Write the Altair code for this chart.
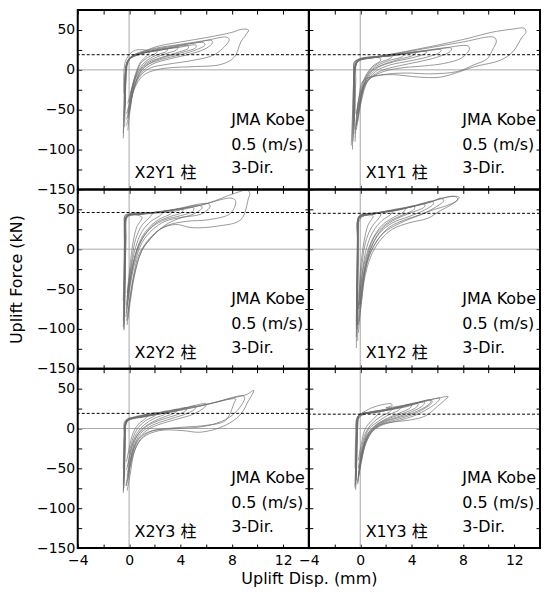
import altair as alt
import pandas as pd

# ---------------- data (x: mm, y: kN) ----------------
X2Y1 = [
    [(-0.45,-86),(-0.4,-60),(-0.35,-30),(-0.3,-5),(-0.15,10),(0.3,18),(1.0,22),(2.1,29),(4.0,35),(6.2,41),(8.0,47),(8.8,51),(9.3,50),(9.1,44),(8.7,35),(8.2,16),(7.2,7),(5.0,4),(3.5,3),(2.1,0),(1.1,-7),(0.4,-24),(0.1,-48),(-0.1,-76)],
    [(-0.35,-72),(-0.3,-35),(-0.25,-8),(-0.1,12),(0.5,20),(2.0,27),(4.0,32),(6.0,37),(7.6,41),(7.8,38),(7.3,27),(6.5,18),(5.0,12),(3.0,7),(1.6,2),(0.8,-9),(0.3,-28),(0.0,-55),(-0.2,-70)],
    [(-0.4,-65),(-0.3,-25),(-0.2,5),(0.2,16),(1.5,24),(3.5,30),(5.2,34),(6.4,37),(6.5,34),(6.0,27),(4.8,20),(3.2,14),(1.8,7),(1.0,-3),(0.4,-20),(0.1,-45),(-0.2,-62)],
    [(-0.35,-58),(-0.3,-20),(-0.2,8),(0.3,17),(1.5,23),(3.5,29),(5.8,34),(5.9,31),(5.2,25),(4.0,19),(2.5,13),(1.3,5),(0.7,-8),(0.3,-28),(0.0,-50)],
    [(-0.3,-50),(-0.25,-15),(-0.1,10),(0.5,18),(2.0,24),(3.8,28),(5.2,31),(5.2,28),(4.4,23),(3.0,17),(1.8,10),(1.0,0),(0.5,-15),(0.1,-38),(-0.2,-55)],
    [(-0.3,-45),(-0.25,-10),(-0.1,12),(0.6,19),(2.2,24),(4.6,30),(4.6,27),(3.8,22),(2.6,16),(1.5,9),(0.8,-2),(0.3,-20),(0.0,-40)],
    [(-0.35,-40),(-0.3,-5),(0.0,14),(0.8,20),(2.5,25),(3.8,28),(3.7,25),(3.0,21),(2.0,15),(1.2,7),(0.6,-6),(0.2,-25),(-0.1,-42)],
    [(-0.3,-35),(-0.2,0),(0.1,15),(1.0,21),(3.0,26),(2.9,23),(2.2,19),(1.4,12),(0.8,2),(0.4,-12),(0.1,-30)],
    [(-0.4,-30),(-0.3,10),(0.2,22),(0.6,25),(1.2,25),(1.6,23),(1.4,18),(0.9,10),(0.5,-5),(0.2,-25),(-0.1,-55)],
    [(-0.45,-80),(-0.4,-40),(-0.3,-5),(0.0,13),(0.8,19),(2.2,24),(2.1,21),(1.5,16),(0.9,8),(0.5,-8),(0.2,-30),(-0.1,-60)],
]
X1Y1 = [
    [(-0.6,-100),(-0.6,-70),(-0.55,-35),(-0.5,-5),(-0.45,10),(0.0,13),(1.5,17),(3.5,23),(6.3,32),(8.5,40),(10.2,47),(11.8,51),(12.8,52),(12.9,47),(12.6,41),(11.9,23),(10.9,12),(8.9,4),(6.3,-9),(4.5,-9),(2.5,-6),(1.0,-8),(0.2,-14),(-0.1,-35),(-0.3,-65),(-0.4,-90)],
    [(-0.5,-85),(-0.5,-40),(-0.45,0),(-0.3,12),(1.0,16),(3.0,21),(5.5,28),(8.0,35),(10.4,41),(10.6,36),(10.3,25),(9.9,14),(8.8,6),(7.6,-2),(5.5,-5),(3.5,-4),(1.8,-6),(0.6,-12),(0.0,-30),(-0.3,-60),(-0.4,-80)],
    [(-0.45,-75),(-0.45,-35),(-0.4,2),(-0.2,12),(1.2,16),(3.5,21),(6.0,26),(8.4,30),(8.5,26),(7.9,15),(6.5,8),(5.0,5),(3.0,2),(1.5,-4),(0.5,-15),(0.0,-40),(-0.3,-70)],
    [(-0.5,-70),(-0.45,-30),(-0.35,5),(0.0,13),(2.0,18),(4.5,23),(7.1,27),(7.0,23),(6.0,16),(4.5,10),(3.0,5),(1.5,-2),(0.6,-14),(0.1,-38),(-0.2,-65)],
    [(-0.55,-90),(-0.5,-45),(-0.4,0),(-0.1,13),(2.0,17),(4.0,21),(6.3,25),(6.2,22),(5.2,16),(3.8,11),(2.3,6),(1.2,-2),(0.4,-18),(0.0,-45),(-0.3,-75)],
    [(-0.45,-65),(-0.4,-25),(-0.3,8),(0.3,14),(2.5,18),(5.2,23),(5.0,20),(4.0,15),(2.6,10),(1.4,3),(0.6,-10),(0.1,-30),(-0.2,-55)],
    [(-0.5,-60),(-0.45,-20),(-0.3,10),(0.5,14),(2.5,18),(4.3,21),(4.1,18),(3.2,14),(2.0,8),(1.0,0),(0.4,-14),(0.0,-35),(-0.3,-58)],
    [(-0.4,-55),(-0.35,-15),(-0.2,11),(1.0,15),(3.4,19),(3.2,16),(2.3,12),(1.3,5),(0.6,-6),(0.2,-24),(-0.1,-48)],
    [(-0.7,-95),(-0.6,-55),(-0.5,-10),(-0.4,11),(0.5,14),(2.5,17),(2.3,14),(1.5,9),(0.8,0),(0.3,-14),(0.0,-38),(-0.3,-70)],
    [(-0.55,-80),(-0.5,-35),(-0.4,5),(0.0,12),(1.5,15),(1.6,12),(1.0,5),(0.4,-8),(0.0,-28),(-0.3,-55)],
]
X2Y2 = [
    [(-0.4,-102),(-0.35,-75),(-0.35,-40),(-0.35,0),(-0.35,30),(-0.3,43),(0.5,44),(2.0,45),(3.6,48),(6.2,58),(8.2,70),(9.2,74),(9.4,70),(9.3,64),(8.7,37),(6.9,29),(4.9,27),(3.6,31),(2.4,25),(1.6,12),(0.8,-5),(0.3,-37),(0.0,-70),(-0.15,-95)],
    [(-0.4,-95),(-0.35,-55),(-0.3,-10),(-0.3,30),(-0.2,42),(1.0,44),(3.0,48),(5.5,55),(8.0,64),(8.3,60),(7.9,45),(6.2,37),(4.5,35),(3.0,30),(2.0,20),(1.2,5),(0.5,-25),(0.1,-60),(-0.2,-90)],
    [(-0.45,-90),(-0.4,-50),(-0.35,0),(-0.3,38),(0.0,43),(1.5,45),(3.5,50),(6.2,57),(6.3,53),(5.6,44),(4.1,40),(2.8,35),(1.8,24),(1.0,8),(0.4,-20),(0.0,-55),(-0.25,-85)],
    [(-0.35,-85),(-0.35,-45),(-0.3,5),(-0.25,40),(0.3,43),(2.0,46),(3.5,49),(5.0,52),(5.0,48),(4.0,42),(2.8,37),(1.8,28),(1.0,12),(0.4,-15),(0.0,-50),(-0.2,-80)],
    [(-0.4,-80),(-0.35,-40),(-0.3,10),(-0.2,41),(0.5,44),(2.5,47),(4.2,50),(4.1,46),(3.2,41),(2.2,34),(1.4,22),(0.7,3),(0.2,-28),(-0.1,-65)],
    [(-0.45,-98),(-0.4,-60),(-0.35,-10),(-0.3,35),(-0.1,42),(1.5,45),(3.4,48),(3.2,44),(2.4,38),(1.6,28),(0.9,12),(0.4,-12),(0.0,-45),(-0.2,-75)],
    [(-0.35,-70),(-0.3,-30),(-0.25,15),(-0.15,40),(1.0,44),(2.6,46),(2.4,42),(1.7,35),(1.0,22),(0.5,2),(0.1,-30),(-0.15,-60)],
    [(-0.4,-75),(-0.35,-30),(-0.3,20),(-0.2,42),(0.8,44),(1.8,45),(1.6,40),(1.0,30),(0.5,12),(0.2,-15),(-0.05,-45),(-0.2,-70)],
    [(-0.45,-65),(-0.4,-20),(-0.35,25),(-0.3,42),(0.5,43),(1.0,40),(0.6,28),(0.3,8),(0.05,-25),(-0.15,-55)],
    [(-0.4,-100),(-0.35,-70),(-0.3,-30),(-0.25,10),(-0.2,38),(0.0,44),(2.0,46),(4.0,51),(5.5,55),(5.7,52),(5.0,44),(3.8,38),(2.8,30),(1.6,12),(0.9,-5),(0.4,-35),(0.1,-65),(-0.1,-88)],
]
X1Y2 = [
    [(-0.3,-124),(-0.3,-90),(-0.25,-50),(-0.2,-10),(-0.15,30),(-0.1,42),(1.0,45),(3.0,50),(5.0,57),(6.9,66),(7.7,65),(7.2,57),(6.2,48),(5.3,39),(3.8,33),(2.5,25),(1.5,10),(0.8,-10),(0.3,-40),(0.0,-80),(-0.15,-105)],
    [(-0.25,-100),(-0.25,-60),(-0.2,-15),(-0.15,30),(-0.05,41),(1.5,46),(3.5,52),(5.5,59),(6.3,64),(6.5,61),(5.8,52),(4.8,44),(3.5,37),(2.3,28),(1.4,13),(0.7,-8),(0.25,-40),(-0.05,-75)],
    [(-0.3,-95),(-0.25,-45),(-0.2,0),(-0.1,38),(0.5,43),(2.5,48),(4.5,55),(5.6,60),(5.7,57),(5.0,49),(3.8,41),(2.5,33),(1.5,20),(0.8,0),(0.3,-30),(0.0,-70)],
    [(-0.3,-110),(-0.25,-70),(-0.2,-20),(-0.15,35),(0.0,42),(2.0,47),(4.0,53),(5.0,57),(5.0,53),(4.0,46),(2.8,38),(1.8,27),(1.0,8),(0.4,-22),(0.05,-60),(-0.15,-95)],
    [(-0.25,-90),(-0.2,-40),(-0.15,10),(-0.1,40),(1.0,44),(2.8,49),(4.2,54),(4.2,50),(3.3,43),(2.2,34),(1.2,18),(0.6,-5),(0.2,-35),(-0.05,-70)],
    [(-0.3,-85),(-0.25,-35),(-0.2,15),(-0.1,40),(1.0,44),(3.5,51),(3.4,47),(2.6,40),(1.7,30),(1.0,14),(0.4,-12),(0.05,-45),(-0.15,-75)],
    [(-0.25,-100),(-0.2,-50),(-0.15,20),(-0.05,41),(1.2,45),(2.5,48),(2.4,44),(1.7,36),(1.0,22),(0.5,2),(0.15,-30),(-0.1,-70)],
    [(-0.3,-80),(-0.25,-30),(-0.2,25),(-0.1,41),(0.8,43),(1.6,45),(1.5,40),(0.9,28),(0.4,8),(0.1,-25),(-0.1,-60)],
    [(-0.2,-115),(-0.2,-70),(-0.15,-20),(-0.1,35),(0.3,42),(1.0,42),(0.6,30),(0.3,10),(0.05,-20),(-0.1,-60),(-0.2,-95)],
    [(-0.3,-90),(-0.25,-40),(-0.2,10),(-0.15,38),(0.5,43),(3.0,49),(4.5,56),(6.0,62),(7.4,66),(7.6,62),(6.8,55),(5.8,50),(4.5,42),(3.0,32),(1.8,20),(1.0,2),(0.4,-25),(0.15,-60),(-0.1,-90)],
]
X2Y3 = [
    [(-0.45,-81),(-0.4,-55),(-0.35,-25),(-0.3,0),(-0.2,10),(0.5,15),(2.4,20),(4.2,25),(6.2,31),(8.0,38),(9.2,43),(9.7,48),(9.6,43),(9.3,35),(8.7,18),(7.5,4),(5.6,-4.6),(4.1,-2.5),(2.4,-2.5),(1.1,-11),(0.45,-27),(0.1,-56),(-0.15,-78)],
    [(-0.4,-75),(-0.35,-40),(-0.3,-10),(-0.25,8),(0.3,13),(2.0,18),(4.0,23),(6.5,32),(8.9,41),(9.0,38),(8.6,26),(7.8,14),(6.5,5),(5.0,1),(3.5,0),(2.0,-2),(1.0,-9),(0.4,-25),(0.05,-50),(-0.2,-72)],
    [(-0.45,-70),(-0.4,-35),(-0.3,0),(-0.15,10),(1.0,15),(3.0,20),(5.5,28),(8.3,37),(8.2,33),(7.5,10),(6.0,4),(4.5,2),(3.0,0),(1.5,-5),(0.7,-18),(0.2,-40),(-0.1,-65)],
    [(-0.4,-65),(-0.35,-30),(-0.3,2),(0.0,11),(1.5,16),(3.5,22),(6.0,31),(5.9,27),(5.0,18),(3.8,12),(2.5,6),(1.4,-2),(0.6,-16),(0.15,-38),(-0.15,-60)],
    [(-0.45,-78),(-0.4,-40),(-0.35,-5),(-0.2,10),(1.0,14),(3.0,20),(5.2,28),(5.1,24),(4.2,17),(3.0,11),(1.8,4),(0.9,-6),(0.35,-24),(0.0,-50),(-0.25,-72)],
    [(-0.35,-60),(-0.3,-20),(-0.2,8),(0.5,13),(2.5,19),(4.5,26),(4.4,22),(3.5,16),(2.3,10),(1.3,2),(0.6,-10),(0.2,-30),(-0.1,-55)],
    [(-0.4,-55),(-0.35,-15),(-0.25,9),(0.5,14),(2.0,18),(3.8,24),(3.6,20),(2.8,15),(1.8,8),(1.0,-1),(0.4,-15),(0.05,-35),(-0.2,-52)],
    [(-0.4,-70),(-0.35,-30),(-0.25,5),(0.0,11),(1.5,16),(3.0,22),(2.8,18),(2.0,13),(1.2,5),(0.6,-6),(0.2,-22),(-0.1,-48)],
    [(-0.45,-50),(-0.4,-10),(-0.3,10),(0.5,14),(2.2,20),(2.0,16),(1.3,10),(0.7,1),(0.3,-12),(0.0,-32)],
    [(-0.35,-45),(-0.3,-5),(-0.2,11),(0.8,15),(1.5,18),(1.3,13),(0.7,5),(0.3,-6),(0.0,-25),(-0.2,-42)],
]
X1Y3 = [
    [(-0.35,-77),(-0.3,-50),(-0.25,-20),(-0.2,5),(-0.1,17),(0.5,20),(2.0,24),(3.5,29),(5.1,35),(6.0,38),(6.85,40),(6.6,36),(6.1,29),(5.1,16),(4.0,11),(2.5,8),(1.5,4),(0.8,-5),(0.3,-22),(0.0,-45),(-0.2,-70)],
    [(-0.4,-72),(-0.35,-40),(-0.3,-5),(-0.2,14),(0.4,22),(1.25,28),(2.4,31),(2.5,29),(2.0,26),(3.0,28),(4.5,33),(5.5,36),(5.6,33),(5.0,25),(4.0,17),(2.8,11),(1.6,5),(0.9,-4),(0.4,-20),(0.05,-45),(-0.2,-68)],
    [(-0.3,-65),(-0.3,-30),(-0.2,0),(-0.1,16),(1.0,20),(3.0,26),(5.5,35),(5.4,31),(4.6,23),(3.5,16),(2.2,10),(1.2,2),(0.5,-12),(0.1,-35),(-0.15,-60)],
    [(-0.35,-70),(-0.3,-35),(-0.25,-5),(-0.15,15),(1.5,21),(3.5,27),(5.0,33),(4.9,29),(4.0,21),(2.8,14),(1.6,7),(0.8,-4),(0.3,-22),(0.0,-45),(-0.2,-66)],
    [(-0.3,-60),(-0.25,-20),(-0.2,8),(0.0,17),(1.5,21),(3.0,26),(4.5,31),(4.4,27),(3.5,20),(2.3,13),(1.3,5),(0.6,-6),(0.2,-25),(-0.1,-50)],
    [(-0.4,-75),(-0.35,-40),(-0.3,-8),(-0.2,15),(1.0,20),(2.5,25),(4.0,30),(3.9,26),(3.0,19),(2.0,12),(1.1,3),(0.5,-10),(0.15,-30),(-0.15,-58)],
    [(-0.35,-55),(-0.3,-15),(-0.2,10),(0.2,18),(1.8,22),(3.2,27),(3.0,23),(2.2,17),(1.4,9),(0.7,0),(0.3,-15),(0.0,-38)],
    [(-0.35,-65),(-0.3,-25),(-0.25,5),(-0.1,17),(1.2,21),(2.5,25),(2.3,21),(1.6,15),(0.9,6),(0.4,-6),(0.1,-25),(-0.15,-50)],
    [(-0.4,-50),(-0.35,-10),(-0.2,12),(0.5,19),(1.6,22),(1.4,18),(0.9,10),(0.4,0),(0.1,-18),(-0.15,-40)],
    [(-0.3,-60),(-0.25,-25),(-0.2,5),(-0.1,17),(1.0,21),(3.0,27),(5.0,34),(6.2,38),(6.0,33),(5.3,25),(4.2,16),(3.0,10),(1.8,5),(1.0,-3),(0.45,-18),(0.1,-40),(-0.15,-62)],
]

PANELS = ["X2Y1", "X1Y1", "X2Y2", "X1Y2", "X2Y3", "X1Y3"]
LOOPS = {"X2Y1": X2Y1, "X1Y1": X1Y1, "X2Y2": X2Y2, "X1Y2": X1Y2, "X2Y3": X2Y3, "X1Y3": X1Y3}
DASH_LEVEL = {"X2Y1": 19, "X1Y1": 19, "X2Y2": 46, "X1Y2": 45, "X2Y3": 19, "X1Y3": 18}
NOTE_LINES = ["JMA Kobe", "0.5 (m/s)", "3-Dir."]
COLUMN_LABEL = "柱"
X_TICKS = [-4, -2, 0, 2, 4, 6, 8, 10, 12]
Y_TICKS = [-150, -125, -100, -75, -50, -25, 0, 25, 50]
X_TITLE = "Uplift Disp. (mm)"
Y_TITLE = "Uplift Force (kN)"

# ---------------- styling / layout ----------------
FONT = "DejaVu Sans, Noto Sans CJK JP, sans-serif"
W, H = 232, 180
NOTE_X = 154
NOTE_Y = [110, 135, 159]
LABEL_X = 57
LABEL_Y = 164


def make_panel(name, row, col):
    recs = []
    for li, loop in enumerate(LOOPS[name]):
        for pi, (x, y) in enumerate(loop):
            recs.append({"loop": li, "i": pi, "x": x, "y": y})
    df = pd.DataFrame(recs)

    xs = alt.Scale(domain=[-4, 14], nice=False, zero=False)
    ys = alt.Scale(domain=[-150, 75], nice=False, zero=False)
    is_bottom = row == 2
    is_left = col == 0

    common = dict(tickSize=4, offset=-4, domain=False, grid=False, tickColor="black",
                  tickWidth=1, labelFont=FONT, labelFontSize=14, labelColor="black",
                  labelOverlap=False, titleFont=FONT, titleFontSize=16,
                  titleFontWeight="normal", titleColor="black")

    xb = dict(common, orient="bottom", values=X_TICKS, labels=is_bottom,
              labelExpr="datum.value % 4 == 0 ? datum.label : ''",
              labelFlush=False, labelPadding=6)
    if is_bottom and is_left:
        xb.update(title=X_TITLE, titleX=W, titleAlign="center", titlePadding=3)
    else:
        xb.update(title=None)
    yl = dict(common, orient="left", values=Y_TICKS, labels=is_left,
              labelExpr="datum.value % 50 == 0 ? datum.label : ''", labelPadding=3)
    if is_left and row == 1:
        yl.update(title=Y_TITLE, titlePadding=12)
    else:
        yl.update(title=None)
    xt = dict(common, orient="top", values=X_TICKS, labels=False, title=None)
    yr = dict(common, orient="right", values=Y_TICKS, labels=False, title=None)

    vzero = alt.Chart(pd.DataFrame({"x": [0]})).mark_rule(color="#a8a8a8", strokeWidth=1).encode(
        x=alt.X("x:Q", scale=xs, axis=alt.Axis(**xt)))
    hzero = alt.Chart(pd.DataFrame({"y": [0]})).mark_rule(color="#a8a8a8", strokeWidth=1).encode(
        y=alt.Y("y:Q", scale=ys, axis=alt.Axis(**yr)))
    lines = alt.Chart(df).mark_line(color="#6e6e6e", strokeWidth=0.7, clip=True,
                                    interpolate="catmull-rom").encode(
        x=alt.X("x:Q", scale=xs, axis=alt.Axis(**xb)),
        y=alt.Y("y:Q", scale=ys, axis=alt.Axis(**yl)),
        detail="loop:N",
        order="i:Q",
    )
    dash = alt.Chart(pd.DataFrame({"y": [DASH_LEVEL[name]]})).mark_rule(
        color="black", strokeWidth=1, strokeDash=[3, 2]).encode(
        y=alt.Y("y:Q", scale=ys, axis=None))
    frame = alt.Chart(pd.DataFrame({"f": [0]})).mark_rect(
        fillOpacity=0, stroke="black", strokeWidth=2).encode(
        x=alt.value(0), x2=alt.value(W), y=alt.value(0), y2=alt.value(H))
    notes = alt.Chart(pd.DataFrame({"t": NOTE_LINES, "py": NOTE_Y})).mark_text(
        align="left", baseline="middle", font=FONT, fontSize=16, color="black").encode(
        x=alt.value(NOTE_X), y=alt.Y("py:Q", scale=None, axis=None), text="t:N")
    lab = alt.Chart(pd.DataFrame({"t": [name + " " + COLUMN_LABEL]})).mark_text(
        align="left", baseline="middle", font=FONT, fontSize=16, color="black").encode(
        x=alt.value(LABEL_X), y=alt.value(LABEL_Y), text="t:N")

    return alt.layer(vzero, hzero, lines, dash, frame, notes, lab).resolve_axis(
        x="independent", y="independent").properties(width=W, height=H)


charts = [make_panel(n, i // 2, i % 2) for i, n in enumerate(PANELS)]
chart = alt.concat(*charts, columns=2, spacing=0, bounds="flush").properties(
    padding=0).configure(font=FONT).configure_view(stroke=None)

chart.save("out.html", embed_options={"renderer": "svg", "actions": False})
